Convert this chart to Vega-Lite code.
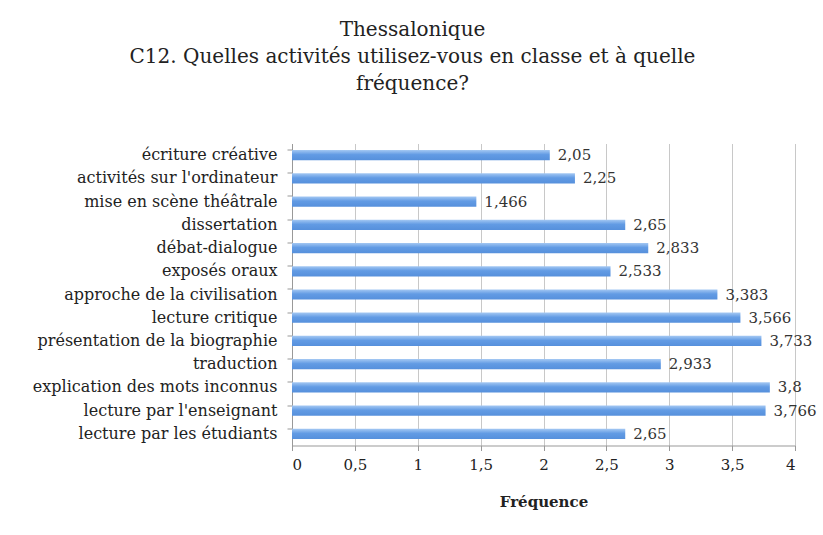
{
  "$schema": "https://vega.github.io/schema/vega-lite/v6.json",
  "width": 503,
  "height": 302,
  "autosize": {"type": "none"},
  "padding": {"left": 292, "top": 143.5, "right": 28, "bottom": 89.5},
  "background": "white",
  "config": {
    "locale": {"number": {"decimal": ",", "thousands": " ", "grouping": [3], "currency": ["", " €"]}},
    "view": {"stroke": null},
    "font": "DejaVu Serif"
  },
  "title": {
    "text": ["Thessalonique", "C12. Quelles activités utilisez-vous en classe et à quelle", "fréquence?"],
    "anchor": "middle",
    "frame": "group",
    "dx": -131,
    "offset": 50,
    "fontSize": 20,
    "lineHeight": 27,
    "font": "DejaVu Serif",
    "fontWeight": "normal",
    "color": "#222222"
  },
  "data": {
    "values": [
      {"activite": "écriture créative", "valeur": 2.05},
      {"activite": "activités sur l'ordinateur", "valeur": 2.25},
      {"activite": "mise en scène théâtrale", "valeur": 1.466},
      {"activite": "dissertation", "valeur": 2.65},
      {"activite": "débat-dialogue", "valeur": 2.833},
      {"activite": "exposés oraux", "valeur": 2.533},
      {"activite": "approche de la civilisation", "valeur": 3.383},
      {"activite": "lecture critique", "valeur": 3.566},
      {"activite": "présentation de la biographie", "valeur": 3.733},
      {"activite": "traduction", "valeur": 2.933},
      {"activite": "explication des mots inconnus", "valeur": 3.8},
      {"activite": "lecture par l'enseignant", "valeur": 3.766},
      {"activite": "lecture par les étudiants", "valeur": 2.65}
    ]
  },
  "encoding": {
    "y": {
      "field": "activite",
      "type": "nominal",
      "sort": null,
      "scale": {"paddingInner": 0.56, "paddingOuter": 0.28},
      "axis": {
        "title": null,
        "bandPosition": 0,
        "labelFont": "DejaVu Serif",
        "labelFontSize": 16,
        "labelColor": "#222222",
        "labelPadding": 10,
        "tickColor": "#999999",
        "tickSize": 5,
        "domainColor": "#999999",
        "grid": false,
        "labelLimit": 400
      }
    },
    "x": {
      "field": "valeur",
      "type": "quantitative",
      "scale": {"domain": [0, 4], "nice": false},
      "axis": {
        "title": "Fréquence",
        "titleFont": "DejaVu Serif",
        "titleFontSize": 15,
        "titleFontWeight": "bold",
        "titleColor": "#222222",
        "titlePadding": 22,
        "values": [0, 0.5, 1, 1.5, 2, 2.5, 3, 3.5, 4],
        "format": "~g",
        "labelFont": "DejaVu Serif",
        "labelFontSize": 15,
        "labelColor": "#222222",
        "labelPadding": 7,
        "tickColor": "#999999",
        "tickSize": 5,
        "domainColor": "#999999",
        "gridColor": "#c8c8c8",
        "grid": true
      }
    }
  },
  "layer": [
    {
      "mark": {
        "type": "bar",
        "color": {
          "gradient": "linear",
          "x1": 0, "y1": 0, "x2": 0, "y2": 1,
          "stops": [
            {"offset": 0, "color": "#a4c8f3"},
            {"offset": 0.45, "color": "#629be4"},
            {"offset": 1, "color": "#5690dc"}
          ]
        }
      }
    },
    {
      "mark": {
        "type": "text",
        "align": "left",
        "baseline": "middle",
        "dx": 8,
        "fontSize": 15,
        "font": "DejaVu Serif",
        "color": "#333333"
      },
      "encoding": {
        "text": {"field": "valeur", "type": "quantitative", "format": ".4~g"}
      }
    }
  ]
}
